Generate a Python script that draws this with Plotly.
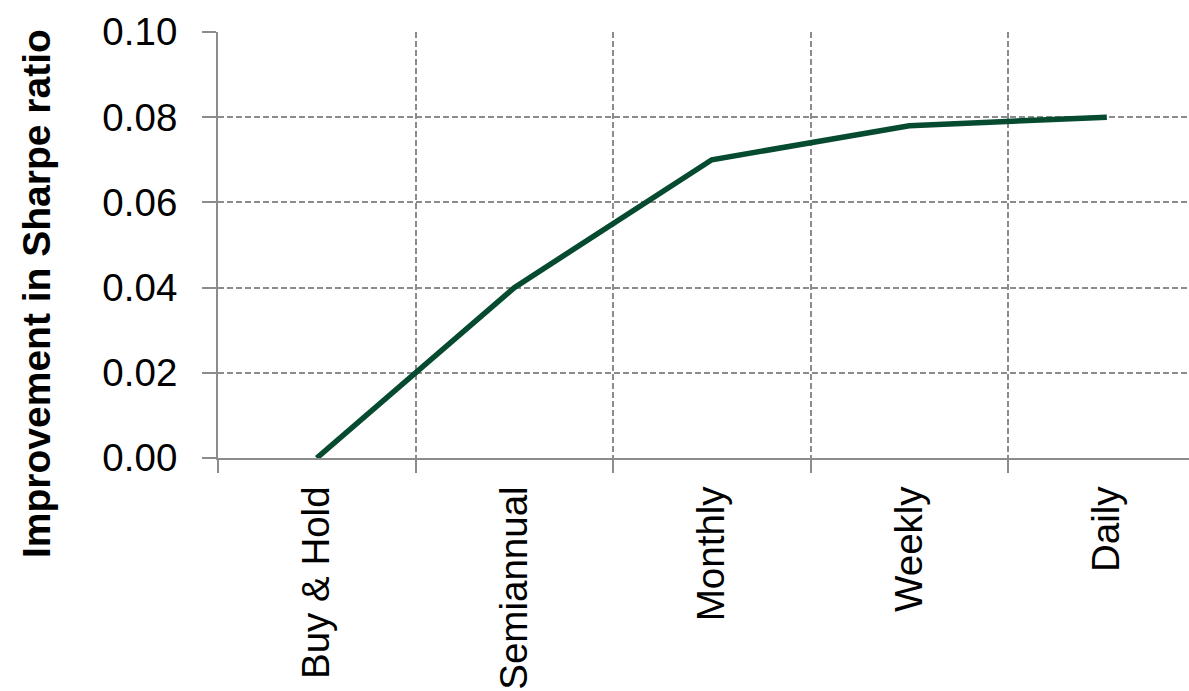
import plotly.graph_objects as go

categories = ["Buy & Hold", "Semiannual", "Monthly", "Weekly", "Daily"]
improvement = [0.0, 0.04, 0.07, 0.078, 0.08]
y_ticks = [0.0, 0.02, 0.04, 0.06, 0.08, 0.10]
y_tick_labels = ["0.00", "0.02", "0.04", "0.06", "0.08", "0.10"]

W, H = 1189, 691
ML, MR, MT, MB = 218, 0, 32, 233
FONT = "Liberation Sans Narrow, Arial Narrow, Liberation Sans, Arial, sans-serif"
GRID = "#8c8c8c"
FS = 38.5

fig = go.Figure()
fig.add_trace(go.Scatter(
    x=categories, y=improvement, mode="lines",
    line=dict(color="#064a30", width=5.5),
    showlegend=False, hoverinfo="skip",
))

fig.update_layout(
    width=W, height=H,
    margin=dict(l=ML, r=MR, t=MT, b=MB, pad=0),
    paper_bgcolor="white", plot_bgcolor="white",
    font=dict(family=FONT, size=FS, color="black"),
    xaxis=dict(
        type="category", range=[-0.5, 4.416], automargin=False,
        tickson="boundaries", ticks="outside", ticklen=13, tickwidth=2, tickcolor=GRID,
        showgrid=True, gridcolor=GRID, griddash="6px,3px", gridwidth=2,
        showline=True, linecolor=GRID, linewidth=2,
        tickangle=-90, tickfont=dict(family=FONT, size=FS, color="black"),
        ticklabelstandoff=11,
        zeroline=False, fixedrange=True,
    ),
    yaxis=dict(
        range=[0, 0.10], tickvals=y_ticks, ticktext=y_tick_labels, automargin=False,
        ticks="outside", ticklen=14, tickwidth=2, tickcolor=GRID,
        showgrid=True, gridcolor=GRID, griddash="6px,3px", gridwidth=2,
        showline=True, linecolor=GRID, linewidth=2,
        tickfont=dict(family=FONT, size=FS, color="black"),
        ticklabelstandoff=17,
        zeroline=False, fixedrange=True,
    ),
)

# y-axis title placed as in reference (centered at ~x=36px, y=293px)
fig.add_annotation(
    text="<b>Improvement in Sharpe ratio</b>", textangle=-90,
    xref="paper", yref="paper",
    x=(36 - ML) / (W - ML - MR), y=1 - (294 - MT) / (H - MT - MB),
    xanchor="center", yanchor="middle", showarrow=False,
    font=dict(family=FONT, size=39, color="black"),
)

fig.write_html("out.html")
